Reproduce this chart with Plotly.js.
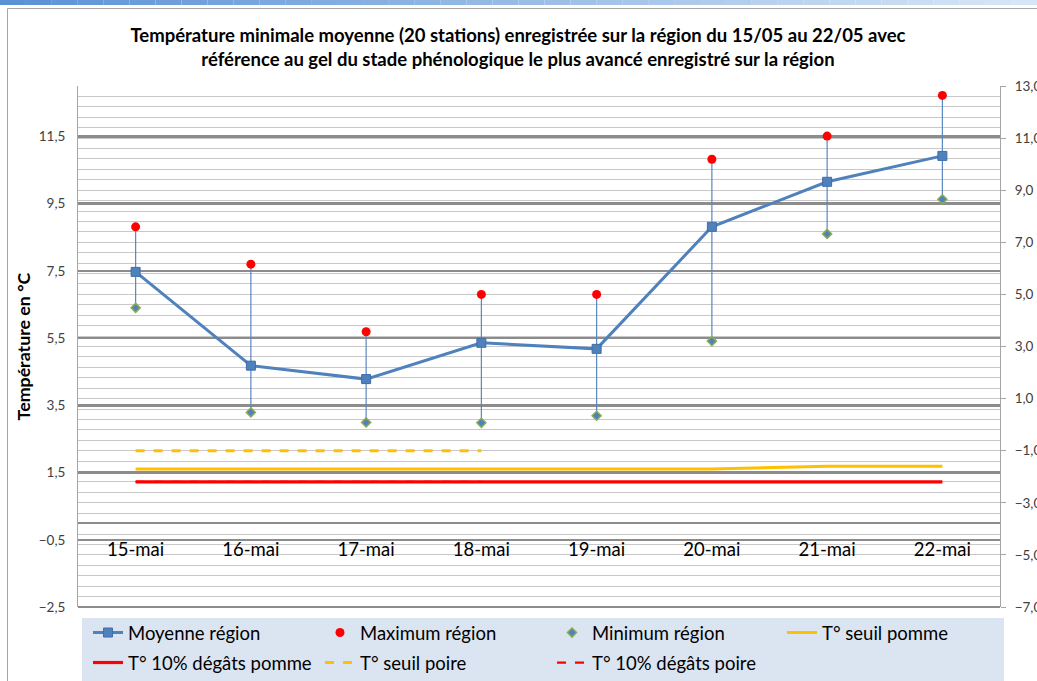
<!DOCTYPE html>
<html>
<head>
<meta charset="utf-8">
<script src="https://cdn.plot.ly/plotly-3.0.1.min.js"></script>
<style>
html,body{margin:0;padding:0;background:#fff;}
#chart{width:1037px;height:681px;}
</style>
</head>
<body>
<div id="chart"></div>
<script>
// ---- data ----
const jours = ['15-mai','16-mai','17-mai','18-mai','19-mai','20-mai','21-mai','22-mai'];
const moyenne = [7.47, 4.68, 4.28, 5.36, 5.18, 8.81, 10.15, 10.92];
const maximum = [8.81, 7.70, 5.69, 6.80, 6.80, 10.82, 11.51, 12.72];
const minimum = [6.40, 3.29, 2.99, 2.98, 3.19, 5.41, 8.60, 9.63];
// thresholds (secondary axis)
const seuilPomme = [-1.7, -1.7, -1.7, -1.7, -1.7, -1.7, -1.6, -1.6];
const degatsPomme = [-2.2, -2.2, -2.2, -2.2, -2.2, -2.2, -2.2, -2.2];
const seuilPoire = [-1.0, -1.0, -1.0, -1.0, null, null, null, null];
const degatsPoire = [-2.2, -2.2, -2.2, -2.2, null, null, null, null];
const leftTicks0 = -2.5;

const FONT = 'Lato, Carlito, Calibri, "Liberation Sans", sans-serif';
const errPlus = maximum.map((v, i) => v - moyenne[i]);
const errMinus = minimum.map((v, i) => moyenne[i] - v);

const traces = [
  {x: jours, y: degatsPoire, name: 'T° 10% dégâts poire', type: 'scatter', mode: 'lines', yaxis: 'y2',
   line: {color: '#ff0000', width: 2.2, dash: 'dash'}, legend: 'legend2', legendrank: 7},
  {x: jours, y: moyenne, name: 'Moyenne région', type: 'scatter', mode: 'lines+markers',
   line: {color: '#4f81bd', width: 3}, marker: {symbol: 'square', size: 9, color: '#4f81bd', line: {color: '#3d6ea8', width: 1}},
   error_y: {type: 'data', symmetric: false, array: errPlus, arrayminus: errMinus, width: 0, thickness: 1.2, color: '#5a87c0'},
   legend: 'legend', legendrank: 1},
  {x: jours, y: maximum, name: 'Maximum région', type: 'scatter', mode: 'markers',
   marker: {symbol: 'circle', size: 9, color: '#ff0000'}, legend: 'legend', legendrank: 2},
  {x: jours, y: minimum, name: 'Minimum région', type: 'scatter', mode: 'markers',
   marker: {symbol: 'diamond', size: 7, color: '#4f81bd', line: {color: '#8aac55', width: 1.5}}, legend: 'legend', legendrank: 3},
  {x: jours, y: seuilPomme, name: 'T° seuil pomme', type: 'scatter', mode: 'lines', yaxis: 'y2',
   line: {color: '#ffc000', width: 3}, legend: 'legend3', legendrank: 4},
  {x: jours, y: degatsPomme, name: 'T° 10% dégâts pomme', type: 'scatter', mode: 'lines', yaxis: 'y2',
   line: {color: '#ff0000', width: 3.2}, legend: 'legend2', legendrank: 5},
  {x: jours, y: seuilPoire, name: 'T° seuil poire', type: 'scatter', mode: 'lines', yaxis: 'y2',
   line: {color: '#ffc000', width: 3, dash: 'dash'}, legend: 'legend2', legendrank: 6}
];

// top gradient strip
const shapes = [];
const N = 40;
for (let i = 0; i < N; i++) {
  const t = i / (N - 1);
  const c0 = [91, 146, 214], c1 = [214, 230, 246];
  const c = c0.map((v, k) => Math.round(v + (c1[k] - v) * t));
  shapes.push({type: 'rect', xref: 'paper', yref: 'paper', layer: 'below',
    x0: (i * 1037 / N - 78) / 922, x1: ((i + 1) * 1037 / N - 78) / 922,
    y0: (607 - 0) / 521, y1: (607 - 5) / 521, fillcolor: 'rgb(' + c.join(',') + ')', line: {width: 0}});
}
// frame
shapes.push({type: 'line', xref: 'paper', yref: 'paper', x0: (7.5 - 78) / 922, x1: (1037 - 78) / 922,
  y0: (607 - 8.5) / 521, y1: (607 - 8.5) / 521, line: {color: '#a6a6a6', width: 1}});
shapes.push({type: 'line', xref: 'paper', yref: 'paper', x0: (7.5 - 78) / 922, x1: (7.5 - 78) / 922,
  y0: (607 - 8.5) / 521, y1: (607 - 690) / 521, line: {color: '#a6a6a6', width: 1}});
// legend background
shapes.push({type: 'rect', xref: 'paper', yref: 'paper', layer: 'below',
  x0: (82 - 78) / 922, x1: (1004 - 78) / 922, y0: (607 - 618) / 521, y1: (607 - 690) / 521,
  fillcolor: '#dbe5f1', line: {width: 0}});
// bottom border of plot
shapes.push({type: 'line', xref: 'paper', yref: 'paper', x0: 0, x1: 1, y0: 0, y1: 0,
  line: {color: '#8c8c8c', width: 2}});

const legendBase = {orientation: 'h', xanchor: 'left', yanchor: 'top',
  bgcolor: 'rgba(0,0,0,0)', entrywidth: 187, entrywidthmode: 'pixels', traceorder: 'normal',
  font: {family: FONT, size: 18.5, color: '#000000'}};

const layout = {
  width: 1037, height: 681,
  margin: {l: 78, r: 37, t: 86, b: 74, pad: 0, autoexpand: false},
  paper_bgcolor: '#ffffff', plot_bgcolor: '#ffffff',
  separators: ', ',
  font: {family: FONT, size: 13.5, color: '#404040'},
  showlegend: true,
  title: {text: 'Température minimale moyenne (20 stations) enregistrée sur la région du 15/05 au 22/05 avec<br>référence au gel du stade phénologique le plus avancé enregistré sur la région',
    font: {family: FONT, size: 18.5, color: '#000000', weight: 'bold'},
    x: 0.4995, xref: 'container', xanchor: 'center', y: 1 - 42 / 681, yref: 'container', yanchor: 'middle'},
  xaxis: {type: 'category', range: [-0.5, 7.5], anchor: 'free', position: (607 - 536) / 521,
    showgrid: false, showline: false, zeroline: false, ticks: '',
    tickfont: {family: FONT, size: 18.5, color: '#000000'}, fixedrange: true},
  yaxis: {range: [-2.5, 13], tick0: leftTicks0, dtick: 2, tickformat: '.1f',
    showgrid: true, gridcolor: '#8c8c8c', gridwidth: 2.5,
    zeroline: true, zerolinecolor: '#8c8c8c', zerolinewidth: 2.5,
    showline: true, linecolor: '#a6a6a6', linewidth: 1, ticks: '',
    ticklabelstandoff: 9,
    tickfont: {family: FONT, size: 13.5, color: '#404040'},
    title: {text: 'Température en °C', font: {family: FONT, size: 17.8, color: '#000000', weight: 'bold'}, standoff: 3},
    automargin: false},
  yaxis2: {range: [-7, 13], tick0: -7, dtick: 2, tickformat: '.1f', overlaying: 'y', side: 'right',
    showgrid: true, gridcolor: '#c8c8c8', gridwidth: 1,
    minor: {tick0: -7, dtick: 0.4, showgrid: true, gridcolor: '#c8c8c8', gridwidth: 1, ticks: ''},
    zeroline: false, showline: true, linecolor: '#a6a6a6', linewidth: 1,
    ticks: 'outside', ticklen: 5, tickcolor: '#a6a6a6', ticklabelstandoff: 6,
    tickfont: {family: FONT, size: 13.5, color: '#404040'}, automargin: false},
  legend: Object.assign({}, legendBase, {x: (88 - 78) / 922, y: (607 - 614) / 521}),
  legend2: Object.assign({}, legendBase, {x: (88 - 78) / 922, y: (607 - 644) / 521}),
  legend3: Object.assign({}, legendBase, {x: (782 - 78) / 922, y: (607 - 614) / 521}),
  shapes: shapes
};

Plotly.newPlot('chart', traces, layout, {displayModeBar: false, staticPlot: true});
</script>
</body>
</html>
